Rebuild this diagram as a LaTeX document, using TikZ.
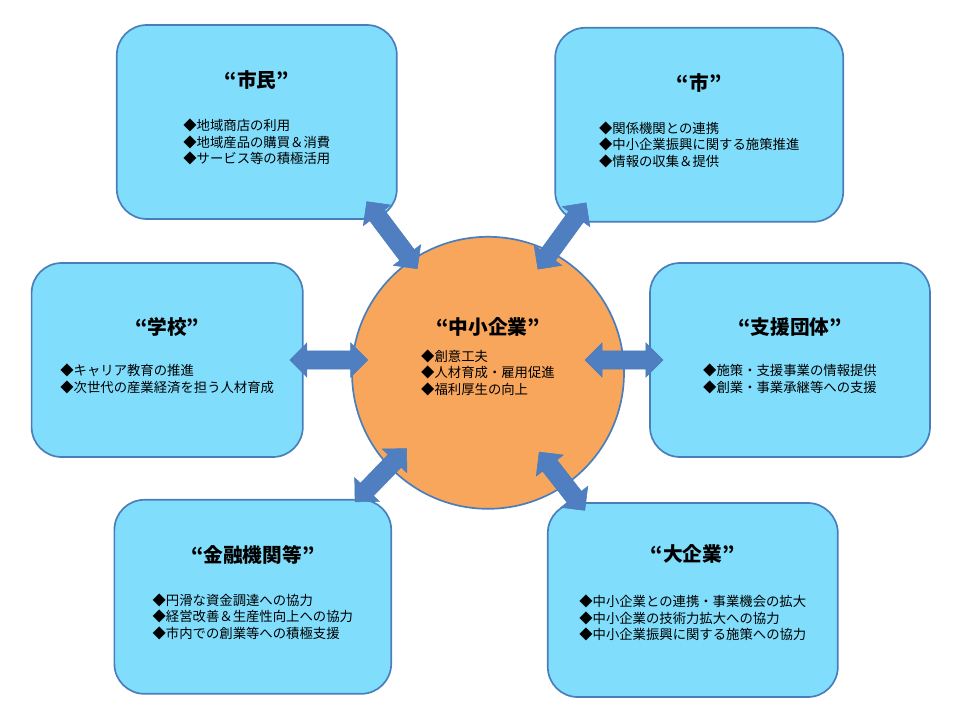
\documentclass[tikz,border=0pt]{standalone}
\usepackage{fontspec}
\setmainfont{Noto Sans CJK JP}
\usetikzlibrary{positioning,shapes.arrows}
\definecolor{boxfill}{HTML}{80DEFC}
\definecolor{boxline}{HTML}{4A7EBB}
\definecolor{hubfill}{HTML}{F8A65C}
\definecolor{arrowfill}{HTML}{4F7FC0}

\begin{document}
\begin{tikzpicture}[
    party/.style={rectangle, rounded corners=0.75cm, minimum height=4.85cm, draw=boxline, line width=1.2pt, fill=boxfill},
    hub/.style={circle, minimum size=6.8cm, draw=boxline, line width=1.2pt, fill=hubfill},
    title/.style={font=\fontsize{14}{16}\selectfont\bfseries},
    items/.style={align=left, font=\fontsize{9.5}{12}\selectfont},
    link/.style={double arrow, double arrow head extend=0.2cm, inner xsep=0pt, inner ysep=0.22cm, draw=boxline, fill=arrowfill}
]
\useasboundingbox (0,0) rectangle (24,18);

% Boxes
\node (citizen) [party, minimum width=7cm] at (6.42,14.95) {};
\node (city) [party, minimum width=7.2cm] at (17.48,14.88) {};
\node (school) [party, minimum width=6.78cm] at (4.18,9) {};
\node (support) [party, minimum width=7cm] at (19.75,9) {};
\node (bank) [party, minimum width=6.92cm] at (6.32,3.08) {};
\node (large) [party, minimum width=7.25cm] at (17.32,3) {};
\node (sme) [hub] at (12.2,8.68) {};

% Texts
\node [title] at ([yshift=1.05cm]citizen.center) {“市民”};
\node [items] at ([yshift=-0.5cm]citizen.center) {◆地域商店の利用\\◆地域産品の購買＆消費\\◆サービス等の積極活用};
\node [title] at ([yshift=1.05cm]city.center) {“市”};
\node [items] at ([yshift=-0.5cm]city.center) {◆関係機関との連携\\◆中小企業振興に関する施策推進\\◆情報の収集＆提供};
\node [title] at ([yshift=0.82cm]school.center) {“学校”};
\node [items] at ([yshift=-0.48cm]school.center) {◆キャリア教育の推進\\◆次世代の産業経済を担う人材育成};
\node [title] at ([yshift=0.82cm]support.center) {“支援団体”};
\node [items] at ([yshift=-0.48cm]support.center) {◆施策・支援事業の情報提供\\◆創業・事業承継等への支援};
\node [title] at ([yshift=1.05cm]bank.center) {“金融機関等”};
\node [items] at ([yshift=-0.5cm]bank.center) {◆円滑な資金調達への協力\\◆経営改善＆生産性向上への協力\\◆市内での創業等への積極支援};
\node [title] at ([yshift=1.15cm]large.center) {“大企業”};
\node [items] at ([yshift=-0.45cm]large.center) {◆中小企業との連携・事業機会の拡大\\◆中小企業の技術力拡大への協力\\◆中小企業振興に関する施策への協力};
\node [title] at ([yshift=1.15cm]sme.center) {“中小企業”};
\node [items] at (sme.center) {◆創意工夫\\◆人材育成・雇用促進\\◆福利厚生の向上};

% Links
\node (l1) [link, minimum height=2.1cm, rotate=-53] at (9.8,12.12) {};
\node (l2) [link, minimum height=2.05cm, rotate=54] at (14.05,12.1) {};
\node (l3) [link, minimum height=1.95cm] at (8.22,9) {};
\node (l4) [link, minimum height=1.95cm] at (15.6,9) {};
\node (l5) [link, minimum height=1.85cm, rotate=46] at (9.52,6.12) {};
\node (l6) [link, minimum height=1.85cm, rotate=-52] at (14.05,5.97) {};
\end{tikzpicture}
\end{document}
